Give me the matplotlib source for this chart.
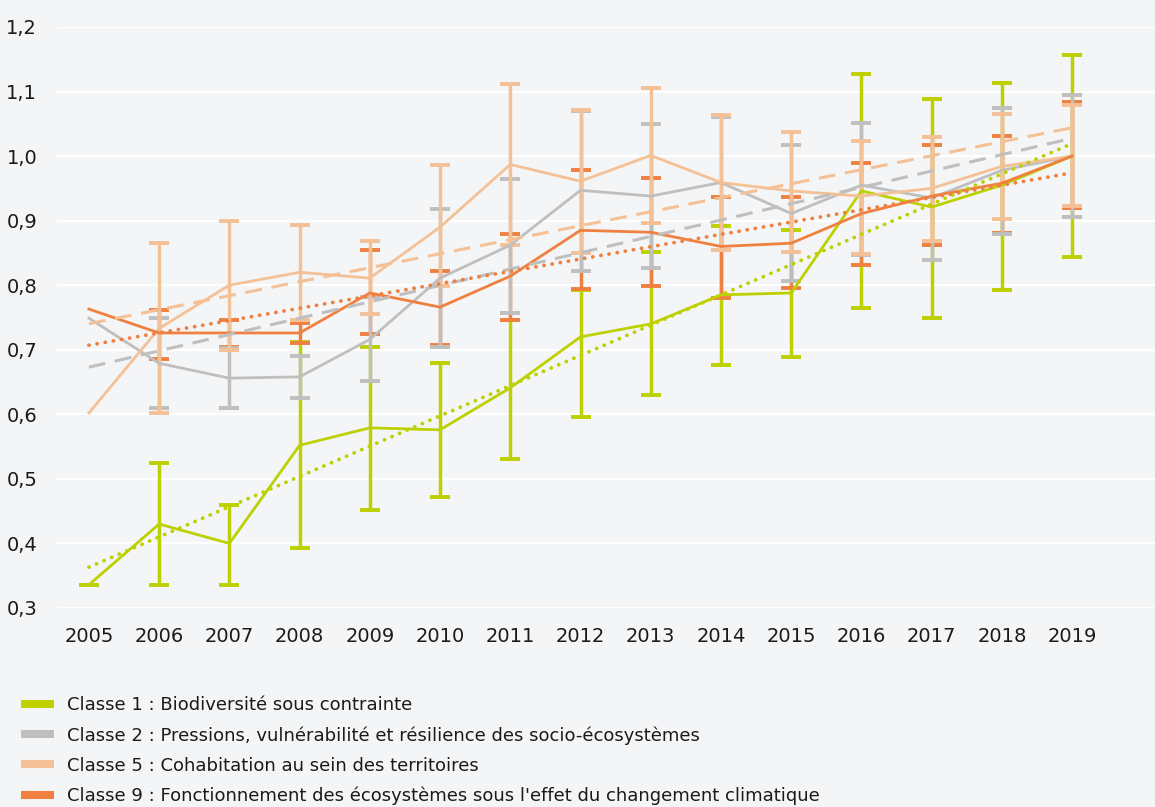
import numpy as np
import matplotlib
matplotlib.use("Agg")
import matplotlib.pyplot as plt
from matplotlib.lines import Line2D

plt.rcParams['font.family'] = ['DejaVu Sans']

years = ["2005", "2006", "2007", "2008", "2009", "2010", "2011", "2012",
         "2013", "2014", "2015", "2016", "2017", "2018", "2019"]

labels = [
    "Classe 1 : Biodiversité sous contrainte",
    "Classe 2 : Pressions, vulnérabilité et résilience des socio-écosystèmes",
    "Classe 5 : Cohabitation au sein des territoires",
    "Classe 9 : Fonctionnement des écosystèmes sous l'effet du changement climatique",
]

# Index values per class
classe1 = [0.336, 0.430, 0.400, 0.552, 0.579, 0.576, 0.641, 0.720,
           0.740, 0.785, 0.788, 0.946, 0.921, 0.955, 1.000]
classe2 = [0.749, 0.679, 0.656, 0.658, 0.716, 0.811, 0.862, 0.947,
           0.938, 0.959, 0.911, 0.955, 0.935, 0.978, 1.000]
classe5 = [0.602, 0.733, 0.800, 0.820, 0.811, 0.890, 0.987, 0.961,
           1.001, 0.959, 0.946, 0.938, 0.950, 0.984, 1.000]
classe9 = [0.763, 0.726, 0.726, 0.726, 0.788, 0.766, 0.814, 0.885,
           0.882, 0.860, 0.865, 0.911, 0.938, 0.958, 1.000]

# Confidence interval bounds (lower / upper); None = no interval
classe1_low = [0.336, 0.336, 0.336, 0.393, 0.452, 0.472, 0.531, 0.596,
               0.630, 0.676, 0.689, 0.764, 0.749, 0.792, 0.843]
classe1_high = [0.336, 0.524, 0.459, 0.712, 0.704, 0.679, 0.746, 0.792,
                0.851, 0.891, 0.885, 1.127, 1.088, 1.113, 1.156]
classe2_low = [None, 0.610, 0.610, 0.625, 0.651, 0.704, 0.757, 0.822,
               0.826, 0.855, 0.806, 0.846, 0.839, 0.879, 0.905]
classe2_high = [None, 0.749, 0.702, 0.690, 0.781, 0.918, 0.964, 1.070,
                1.049, 1.060, 1.017, 1.051, 1.030, 1.074, 1.095]
classe5_low = [None, 0.602, 0.700, 0.746, 0.755, 0.798, 0.863, 0.850,
               0.896, 0.855, 0.851, 0.849, 0.868, 0.902, 0.922]
classe5_high = [None, 0.865, 0.900, 0.893, 0.868, 0.986, 1.111, 1.072,
                1.106, 1.063, 1.038, 1.023, 1.029, 1.065, 1.079]
classe9_low = [None, 0.685, 0.705, 0.710, 0.724, 0.707, 0.746, 0.794,
               0.798, 0.780, 0.795, 0.832, 0.862, 0.881, 0.919]
classe9_high = [None, 0.761, 0.746, 0.741, 0.854, 0.822, 0.880, 0.979,
                0.966, 0.936, 0.936, 0.990, 1.017, 1.031, 1.083]

green = "#bdd100"
grey = "#bfbfbf"
peach = "#f4c196"
orange = "#ef8040"
bg = "#f4f5f7"

fig = plt.figure(figsize=(11.55, 8.07), dpi=100, facecolor=bg)
ax = fig.add_axes([0.049, 0.2466, 0.951, 0.72])
ax.set_facecolor(bg)

x = np.arange(len(years))


def draw_errorbars(values, low, high, color, z):
    idx = [i for i, lo in enumerate(low) if lo is not None]
    v = np.array([values[i] for i in idx])
    lo = np.array([low[i] for i in idx])
    hi = np.array([high[i] for i in idx])
    ax.errorbar(x[idx], v, yerr=[v - lo, hi - v], fmt='none', ecolor=color,
                elinewidth=2.5, capsize=7, capthick=2.8, zorder=z)


draw_errorbars(classe1, classe1_low, classe1_high, green, 2.0)
draw_errorbars(classe9, classe9_low, classe9_high, orange, 2.1)
draw_errorbars(classe2, classe2_low, classe2_high, grey, 2.2)
draw_errorbars(classe5, classe5_low, classe5_high, peach, 2.3)

ax.plot(x, classe1, color=green, lw=2.0, zorder=3.0)
ax.plot(x, classe2, color=grey, lw=2.0, zorder=3.1)
ax.plot(x, classe5, color=peach, lw=2.0, zorder=3.2)
ax.plot(x, classe9, color=orange, lw=2.0, zorder=3.3)

# Linear trend lines fitted on each series
for vals, color, kind in [(classe1, green, 'dot'), (classe2, grey, 'dash'),
                          (classe5, peach, 'dash'), (classe9, orange, 'dot')]:
    slope, intercept = np.polyfit(x, vals, 1)
    if kind == 'dot':
        ax.plot(x, slope * x + intercept, color=color, lw=2.7,
                ls=(0, (0.05, 2.15)), dash_capstyle='round', zorder=3.5)
    else:
        ax.plot(x, slope * x + intercept, color=color, lw=2.2,
                ls=(0, (5.5, 3.2)), dash_capstyle='butt', zorder=3.5)

ax.set_ylim(0.3, 1.2)
ax.set_xlim(-0.46, 15.18)
ax.set_yticks(np.arange(0.3, 1.21, 0.1))
ax.set_yticklabels([f"{t:.1f}".replace(".", ",") for t in np.arange(0.3, 1.21, 0.1)])
ax.set_xticks(x)
ax.set_xticklabels(years)
ax.grid(axis='y', color='white', lw=1.6, zorder=0)
ax.set_axisbelow(True)
for s in ax.spines.values():
    s.set_visible(False)
ax.tick_params(length=0, labelsize=14, colors='#1a1a1a')
ax.tick_params(axis='y', pad=14)
ax.tick_params(axis='x', pad=14)

handles = [Line2D([0], [0], color=c, lw=5.8, solid_capstyle='butt')
           for c in (green, grey, peach, orange)]
fig.legend(handles, labels, loc='upper left', bbox_to_anchor=(0.012, 0.146),
           frameon=False, fontsize=13, handlelength=1.85, handletextpad=0.7,
           labelspacing=0.66, borderaxespad=0, labelcolor='#1a1a1a')

fig.savefig("out.png", dpi=100, facecolor=bg)
